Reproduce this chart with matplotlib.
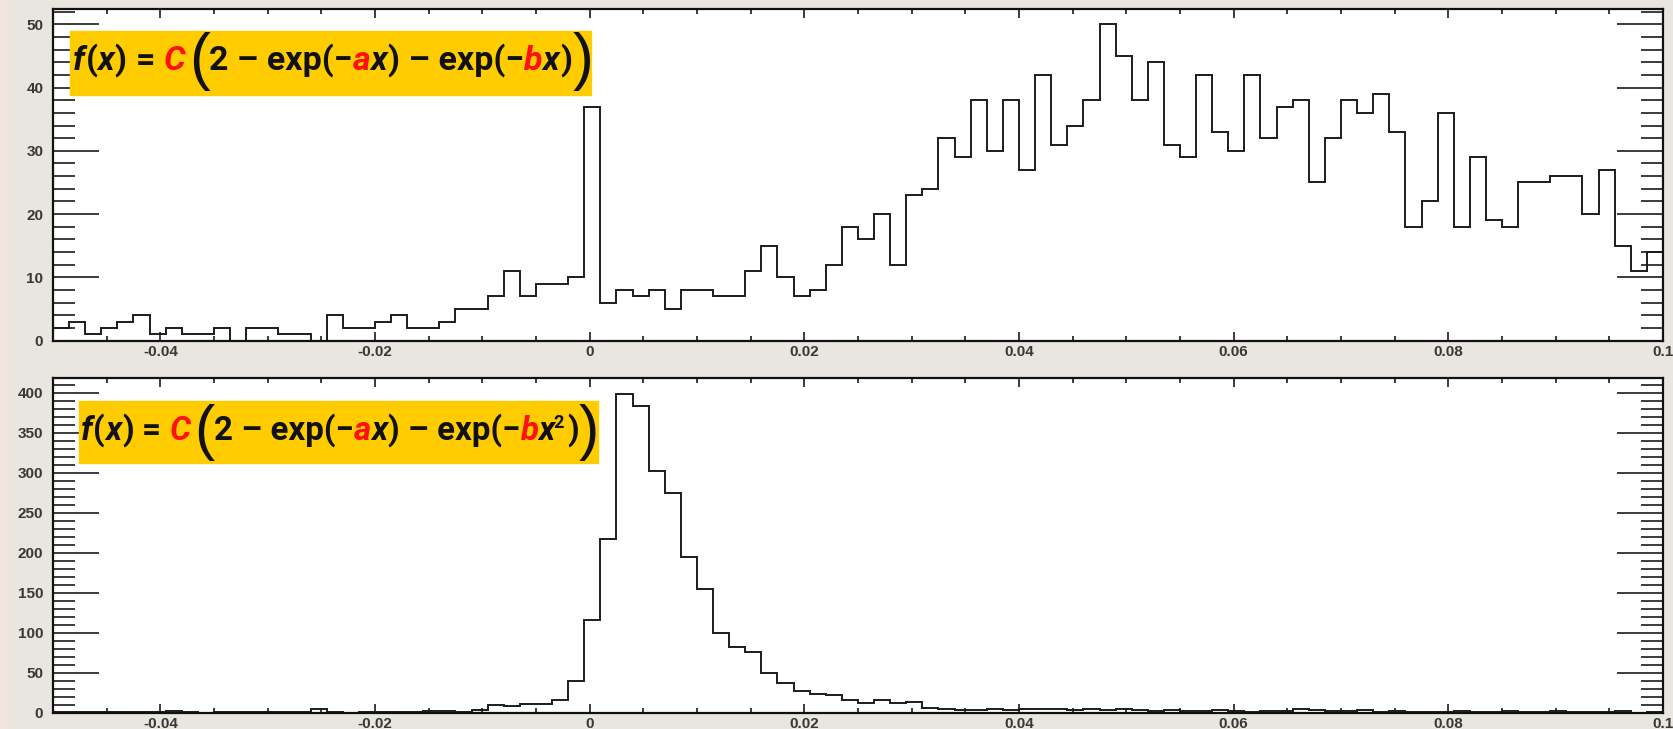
import numpy as np
import matplotlib.pyplot as plt
from matplotlib.ticker import MultipleLocator
from matplotlib.transforms import IdentityTransform
from matplotlib.patches import Rectangle

W, H, DPI = 1674, 729, 100
PX = DPI / 72.0  # pixels per point

# common binning of both histograms
x_lo, x_hi, n_bins = -0.05, 0.1, 100

counts_top = [2, 3, 1, 2, 3, 4, 1, 2, 1, 1,
              2, 0, 2, 2, 1, 1, 0, 4, 2, 2,
              3, 4, 2, 2, 3, 5, 5, 7, 11, 7,
              9, 9, 10, 37, 6, 8, 7, 8, 5, 8,
              8, 7, 7, 11, 15, 10, 7, 8, 12, 18,
              16, 20, 12, 23, 24, 32, 29, 38, 30, 38,
              27, 42, 31, 34, 38, 50, 45, 38, 44, 31,
              29, 42, 33, 30, 42, 32, 37, 38, 25, 32,
              38, 36, 39, 33, 18, 22, 36, 18, 29, 19,
              18, 25, 25, 26, 26, 20, 27, 15, 11, 14]

counts_bot = [1, 1, 1, 1, 1, 1, 1, 2, 1, 0,
              1, 1, 1, 1, 1, 1, 5, 1, 0, 1,
              1, 1, 1, 2, 2, 1, 3, 10, 8, 11,
              11, 16, 40, 116, 217, 398, 383, 302, 274, 195,
              155, 99, 82, 76, 49, 37, 27, 23, 22, 16,
              12, 16, 12, 13, 6, 4, 3, 3, 4, 3,
              5, 5, 4, 3, 4, 3, 4, 3, 2, 3,
              2, 2, 3, 2, 1, 2, 2, 4, 3, 2,
              2, 3, 1, 2, 1, 1, 1, 2, 1, 1,
              2, 1, 1, 2, 1, 1, 1, 2, 0, 1]

xticks = [-0.04, -0.02, 0, 0.02, 0.04, 0.06, 0.08, 0.1]
xtick_labels = ['-0.04', '-0.02', '0', '0.02', '0.04', '0.06', '0.08', '0.1']
yticks_top = [0, 10, 20, 30, 40, 50]
yticks_bot = [0, 50, 100, 150, 200, 250, 300, 350, 400]

plt.rcParams['font.family'] = ['Liberation Sans', 'DejaVu Sans']

fig = plt.figure(figsize=(W / DPI, H / DPI), dpi=DPI, facecolor='#e9e6df')
fig.add_artist(Rectangle((0, 0), 12, H, transform=IdentityTransform(),
                         color='#efe4de', zorder=-5))

edges = np.linspace(x_lo, x_hi, n_bins + 1)


def panel(top, bottom, counts, yticks, yminor):
    left, right = 53, 1663
    ax = fig.add_axes([left / W, 1 - bottom / H, (right - left) / W, (bottom - top) / H])
    ax.stairs(counts, edges, color='#1c1c1c', lw=1.4)
    ax.set_xlim(x_lo, x_hi)
    ax.set_ylim(0, 1.05 * max(counts))
    ax.set_xticks(xticks, xtick_labels)
    ax.set_yticks(yticks, [str(v) for v in yticks])
    ax.xaxis.set_minor_locator(MultipleLocator(0.005))
    ax.yaxis.set_minor_locator(MultipleLocator(yminor))
    ax.tick_params(which='both', direction='in', top=True, right=True,
                   width=1.2, color='#1a1a1a', labelsize=11, labelcolor='#383838')
    ax.tick_params(axis='x', which='major', length=6.5, pad=3)
    ax.tick_params(axis='x', which='minor', length=3.6)
    ax.tick_params(axis='y', which='major', length=33, pad=7)
    ax.tick_params(axis='y', which='minor', length=16)
    for lab in ax.get_xticklabels() + ax.get_yticklabels():
        lab.set_fontweight('bold')
    for sp in ax.spines.values():
        sp.set_linewidth(1.6)
        sp.set_color('#111111')
    return ax


ax1 = panel(8.5, 340.6, counts_top, yticks_top, 2)
ax2 = panel(378.3, 712.5, counts_bot, yticks_bot, 10)

RED, BLK = '#ff1010', '#111111'


def formula(box, x_left, x_right, baseline, pieces):
    x0, y0, x1, y1 = box
    fig.add_artist(Rectangle((x0, H - y1), x1 - x0, y1 - y0, transform=IdentityTransform(),
                             color='#ffcc00', zorder=2))
    r = fig.canvas.get_renderer()

    def lay(fs):
        em = fs * PX
        x = x_left
        made = []
        for s, color, style, scale, dy, gap in pieces:
            x += gap * em
            big = scale > 1.5
            t = fig.text(x, H - baseline + dy * em, s, transform=IdentityTransform(),
                         family='Liberation Sans' if big else ['Roboto', 'DejaVu Sans'],
                         fontsize=fs * scale, color=color, fontstyle=style,
                         fontweight='normal' if big else 'bold',
                         ha='left', va='baseline', zorder=3)
            x += t.get_window_extent(r).width
            made.append(t)
        return x - x_left, made

    width, made = lay(20)
    for t in made:
        t.remove()
    lay(20 * (x_right - x_left) / width)


big_open = ('(', BLK, 'normal', 1.85, -0.23, 0.12)
big_close = (')', BLK, 'normal', 1.85, -0.23, 0.0)
head = [('f', BLK, 'italic', 1, 0, 0),
        ('(', BLK, 'normal', 1, 0, 0.03),
        ('x', BLK, 'italic', 1, 0, 0.0),
        (')', BLK, 'normal', 1, 0, 0.02),
        ('=', BLK, 'normal', 1, 0, 0.25),
        ('C', RED, 'italic', 1, 0, 0.25),
        big_open,
        ('2 \u2013 exp(\u2212', BLK, 'normal', 1, 0, -0.02),
        ('a', RED, 'italic', 1, 0, 0.0),
        ('x', BLK, 'italic', 1, 0, 0.0),
        (') \u2013 exp(\u2212', BLK, 'normal', 1, 0, 0.02),
        ('b', RED, 'italic', 1, 0, 0.0),
        ('x', BLK, 'italic', 1, 0, 0.0)]

formula((70, 31, 591, 95), 72.5, 592, 70,
        head + [(')', BLK, 'normal', 1, 0, 0.03), big_close])
formula((79, 401, 598, 463), 81, 599, 440,
        head + [('2', BLK, 'normal', 0.55, 0.36, -0.04),
                (')', BLK, 'normal', 1, 0, 0.1), big_close])

fig.savefig('out.png', dpi=DPI, facecolor=fig.get_facecolor())
